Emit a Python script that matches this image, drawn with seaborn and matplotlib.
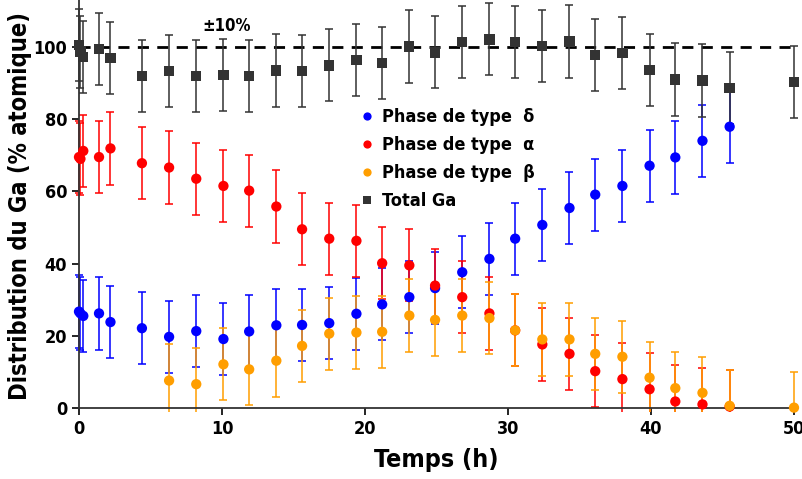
import numpy as np
import pandas as pd
import matplotlib
matplotlib.use("Agg")
import matplotlib.pyplot as plt
from matplotlib import font_manager as fm
import seaborn as sns

# ---- data ----
t_all = [0, 0.1, 0.3, 1.4, 2.2, 4.4, 6.3, 8.2, 10.1, 11.9, 13.8, 15.6, 17.5, 19.4,
         21.2, 23.1, 24.9, 26.8, 28.7, 30.5, 32.4, 34.3, 36.1, 38.0, 39.9, 41.7,
         43.6, 45.5, 50]
total_ga = [100.5, 98.7, 97.3, 99.4, 96.9, 91.9, 93.3, 91.9, 92.3, 91.9, 93.5, 93.4,
            94.9, 96.3, 95.5, 100.1, 98.5, 101.4, 102.1, 101.4, 100.3, 101.5, 97.8,
            98.3, 93.6, 91.0, 90.7, 88.6, 90.2]

t_delta = [0, 0.1, 0.3, 1.4, 2.2, 4.4, 6.3, 8.2, 10.1, 11.9, 13.8, 15.6, 17.5, 19.4,
           21.2, 23.1, 24.9, 26.8, 28.7, 30.5, 32.4, 34.3, 36.1, 38.0, 39.9, 41.7,
           43.6, 45.5]
delta = [26.7, 26.2, 25.5, 26.2, 23.8, 22.1, 19.7, 21.3, 19.1, 21.2, 22.9, 23.0,
         23.5, 26.1, 28.7, 30.7, 33.2, 37.6, 41.3, 46.9, 50.7, 55.4, 59.1, 61.5,
         67.1, 69.4, 74.0, 77.9]

t_alpha = [0, 0.1, 0.3, 1.4, 2.2, 4.4, 6.3, 8.2, 10.1, 11.9, 13.8, 15.6, 17.5, 19.4,
           21.2, 23.1, 24.9, 26.8, 28.7, 30.5, 32.4, 34.3, 36.1, 38.0, 39.9, 41.7,
           43.6, 45.5]
alpha = [69.5, 69.0, 71.2, 69.5, 71.9, 67.8, 66.6, 63.5, 61.5, 60.2, 55.8, 49.5,
         46.9, 46.3, 40.1, 39.5, 33.9, 30.7, 26.2, 21.5, 17.6, 15.0, 10.2, 8.0,
         5.2, 1.8, 1.0, 0.4]

t_beta = [6.3, 8.2, 10.1, 11.9, 13.8, 15.6, 17.5, 19.4, 21.2, 23.1, 24.9, 26.8,
          28.7, 30.5, 32.4, 34.3, 36.1, 38.0, 39.9, 41.7, 43.6, 45.5, 50]
beta = [7.6, 6.6, 12.1, 10.7, 13.1, 17.2, 20.6, 20.9, 21.1, 25.6, 24.4, 25.6,
        24.9, 21.5, 19.0, 19.0, 15.0, 14.2, 8.4, 5.5, 4.2, 0.6, 0.1]

err = 10
labels = ["Phase de type  δ", "Phase de type  α", "Phase de type  β", "Total Ga"]
colors = ["#0000FF", "#FF0000", "#FF9E00", "#333333"]
markers = ["o", "o", "o", "s"]

df = pd.concat([
    pd.DataFrame({"t": t_delta, "v": delta, "s": labels[0]}),
    pd.DataFrame({"t": t_alpha, "v": alpha, "s": labels[1]}),
    pd.DataFrame({"t": t_beta, "v": beta, "s": labels[2]}),
    pd.DataFrame({"t": t_all, "v": total_ga, "s": labels[3]}),
], ignore_index=True)

sns.set_style("white")
names = {f.name for f in fm.fontManager.ttflist}
condensed = [f for f in fm.fontManager.ttflist
             if f.name == "DejaVu Sans" and "ondensed" in f.fname]
if "Liberation Sans Narrow" in names:
    fam = ["Liberation Sans Narrow", "DejaVu Sans"]
    stretch = "normal"
elif condensed:
    fam = ["DejaVu Sans"]
    stretch = "condensed"
else:
    fam = ["Liberation Sans", "DejaVu Sans"]
    stretch = "normal"
plt.rcParams["font.family"] = fam
plt.rcParams["font.stretch"] = stretch
plt.rcParams["font.weight"] = "bold"
plt.rcParams["text.color"] = "black"
plt.rcParams["axes.labelcolor"] = "black"

fig = plt.figure(figsize=(8.03, 4.79), dpi=100)
ypad = 1.0   # data units of room below the zero line
xpad = 0.5   # data units of room left of 0 and right of 50
ppu_y = 408 / 113.0
ppu_x = 715 / 50.0
ax = fig.add_axes([(79 - xpad * ppu_x) / 803, (71 - ypad * ppu_y) / 479,
                   (715 + 2 * xpad * ppu_x) / 803, (408 + ypad * ppu_y) / 479])

# error bars
for lab, col in zip(labels, colors):
    sub = df[df["s"] == lab]
    ax.errorbar(sub["t"], sub["v"], yerr=err, fmt="none", ecolor=col,
                elinewidth=1.1, capsize=3, capthick=1.1, zorder=2, clip_on=True)

sns.scatterplot(data=df, x="t", y="v", hue="s", style="s", hue_order=labels,
                style_order=labels, palette=dict(zip(labels, colors)),
                markers=dict(zip(labels, markers)), s=55, edgecolor="none",
                linewidth=0, ax=ax, zorder=3, clip_on=False)

# dashed reference line at 100 %
ax.plot([0, 50], [100, 100], color="black", ls=(0, (4, 3)), lw=2, zorder=1)
ax.text(10.3, 103.2, "±10%", ha="center", va="bottom", fontsize=12,
        fontweight="bold", color="black")

ax.set_xlim(-xpad, 50 + xpad)
ax.set_ylim(-ypad, 113)
ax.spines["bottom"].set_position(("data", 0))
ax.spines["left"].set_position(("data", 0))
ax.spines["bottom"].set_bounds(0, 50.1)
ax.spines["left"].set_bounds(0, 113)
ax.set_xticks([0, 10, 20, 30, 40, 50])
ax.set_yticks([0, 20, 40, 60, 80, 100])
ax.tick_params(axis="both", direction="out", length=5, width=1.2,
               labelsize=13, colors="black", left=True, bottom=True)
for lbl in ax.get_xticklabels() + ax.get_yticklabels():
    lbl.set_fontweight("bold")
for side in ["top", "right"]:
    ax.spines[side].set_visible(False)
for side in ["left", "bottom"]:
    ax.spines[side].set_color("#333333")
    ax.spines[side].set_linewidth(1.3)

ax.set_xlabel("Temps (h)", fontsize=18, fontweight="bold", labelpad=7)
ax.set_ylabel("Distribution du Ga (% atomique)", fontsize=17, fontweight="bold",
              labelpad=1)

leg = ax.legend(loc="upper left", bbox_to_anchor=(0.382, 0.755), frameon=False,
                fontsize=13, handletextpad=0.35, labelspacing=0.55,
                borderaxespad=0, handlelength=1.0, markerscale=0.8)
for txt in leg.get_texts():
    txt.set_fontweight("bold")
    txt.set_color("black")

fig.savefig("out.png", dpi=100)
